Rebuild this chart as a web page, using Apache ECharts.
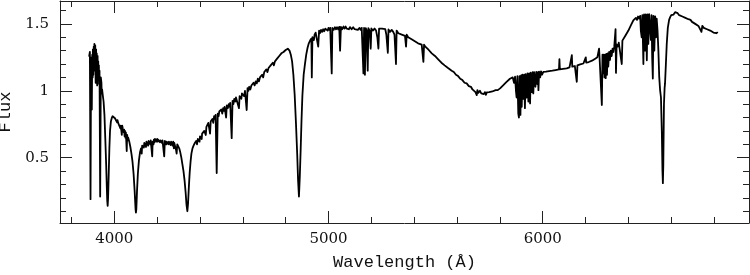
<!DOCTYPE html>
<html>
<head>
<meta charset="utf-8">
<script src="https://cdn.jsdelivr.net/npm/echarts@6/dist/echarts.min.js"></script>
<style>
html,body{margin:0;padding:0;background:#fff;}
#c{width:750px;height:275px;}
</style>
</head>
<body>
<div id="c"></div>
<script>
// [wavelength (Å), flux], by region
const specBlue = [[3883,1.26],[3886,1.29],[3889,0.19],[3891,1.02],[3893,1.25],[3895,0.86],[3897,1.27],[3899,1.10],[3900,1.31],[3902,1.12],[3904,1.33],[3905,1.15],[3907,1.35],[3908,1.20],[3909,1.30],[3911,1.34],[3912,1.18],[3913,1.06],[3915,1.31],[3916,1.12],[3918,1.28],[3920,1.04],[3922,1.26],[3923,1.12],[3925,1.22],[3926,1.08],[3928,1.19],[3929,1.05],[3931,1.15],[3934,0.21],[3937,1.10],[3940,1.06],[3941,0.98],[3943,1.01],[3946,0.97],[3950,0.92],[3954,0.82],[3958,0.64],[3962,0.45],[3965,0.28],[3967,0.18],[3969,0.14],[3971,0.20],[3974,0.38],[3977,0.57],[3980,0.70],[3984,0.77],[3988,0.795],[3992,0.81],[3996,0.82]];
const specViolet = [[4000,0.81],[4003,0.795],[4005,0.80],[4008,0.79],[4010,0.79],[4013,0.765],[4015,0.78],[4018,0.76],[4020,0.77],[4023,0.755],[4025,0.76],[4028,0.72],[4030,0.74],[4033,0.70],[4035,0.67],[4037,0.74],[4040,0.715],[4042,0.72],[4044,0.69],[4046,0.71],[4048,0.66],[4050,0.70],[4052,0.65],[4054,0.69],[4058,0.55],[4060,0.67],[4063,0.63],[4065,0.65],[4070,0.62],[4075,0.58],[4080,0.53],[4085,0.47],[4090,0.38],[4095,0.25],[4099,0.12],[4101,0.09],[4103,0.12],[4106,0.25],[4110,0.38],[4115,0.48],[4120,0.54],[4125,0.57],[4128,0.53],[4130,0.59],[4135,0.60],[4138,0.575],[4140,0.61],[4145,0.60],[4148,0.58],[4150,0.62],[4155,0.61],[4158,0.59],[4160,0.625],[4165,0.62],[4168,0.60],[4170,0.63],[4175,0.62],[4177,0.51],[4179,0.62],[4183,0.60],[4185,0.635],[4188,0.615],[4190,0.64],[4195,0.645],[4198,0.62],[4200,0.64],[4203,0.62],[4205,0.635],[4210,0.64],[4213,0.615],[4215,0.63],[4220,0.635],[4223,0.61],[4225,0.63],[4230,0.625],[4233,0.51],[4236,0.625],[4240,0.63],[4243,0.60],[4245,0.62],[4250,0.625],[4253,0.60],[4255,0.62],[4260,0.625],[4263,0.595],[4265,0.62],[4270,0.615],[4272,0.59],[4275,0.62],[4278,0.57],[4280,0.61],[4285,0.60],[4288,0.56],[4291,0.53],[4294,0.60],[4298,0.60],[4303,0.57],[4308,0.54],[4313,0.50],[4318,0.45],[4323,0.40],[4328,0.33],[4333,0.24],[4337,0.15],[4341,0.10],[4344,0.15],[4348,0.28],[4352,0.39],[4356,0.47],[4360,0.53],[4365,0.57],[4370,0.59],[4376,0.61],[4382,0.625],[4386,0.60],[4390,0.64],[4395,0.65],[4398,0.62]];
const specBlueGreen = [[4400,0.66],[4405,0.665],[4408,0.64],[4410,0.68],[4415,0.685],[4420,0.70],[4425,0.71],[4427,0.67],[4430,0.73],[4435,0.74],[4439,0.76],[4444,0.765],[4447,0.68],[4450,0.77],[4455,0.78],[4458,0.79],[4462,0.76],[4466,0.81],[4470,0.79],[4473,0.82],[4478,0.385],[4483,0.83],[4487,0.81],[4490,0.845],[4495,0.85],[4500,0.86],[4504,0.83],[4508,0.87],[4512,0.85],[4515,0.88],[4522,0.80],[4525,0.89],[4530,0.87],[4534,0.90],[4538,0.88],[4541,0.91],[4548,0.646],[4552,0.925],[4556,0.90],[4560,0.94],[4565,0.92],[4568,0.95],[4575,0.955],[4582,0.87],[4585,0.96],[4590,0.97],[4593,0.94],[4596,0.98],[4602,0.99],[4606,0.96],[4610,1.00],[4618,0.856],[4622,1.02],[4626,1.00],[4630,1.03],[4635,1.01],[4640,1.04],[4645,1.03],[4650,1.06],[4655,1.04],[4660,1.07],[4665,1.055],[4670,1.09],[4675,1.07],[4680,1.10],[4690,1.12],[4695,1.10],[4700,1.14],[4710,1.16],[4715,1.14],[4720,1.17],[4730,1.19],[4740,1.21],[4745,1.19],[4750,1.22],[4760,1.24],[4770,1.26],[4780,1.28],[4790,1.29],[4800,1.305],[4810,1.315],[4818,1.30],[4824,1.27],[4830,1.22],[4836,1.12],[4842,0.97],[4848,0.76],[4854,0.52],[4858,0.33],[4862,0.21],[4866,0.36],[4870,0.56],[4874,0.78],[4878,0.96],[4884,1.12],[4890,1.20],[4896,1.27]];
const specGreen = [[4902,1.32],[4908,1.355],[4914,1.375],[4920,1.39],[4922,1.10],[4925,1.40],[4930,1.41],[4932,1.38],[4935,1.42],[4940,1.435],[4946,1.44],[4952,1.33],[4956,1.45],[4960,1.43],[4965,1.455],[4970,1.44],[4975,1.46],[4980,1.445],[4985,1.465],[4992,1.47],[4996,1.45],[5000,1.47],[5004,1.455],[5008,1.47],[5015,1.13],[5018,1.47],[5024,1.455],[5030,1.475],[5035,1.46],[5040,1.475],[5045,1.46],[5050,1.478],[5054,1.30],[5058,1.478],[5064,1.46],[5070,1.48],[5075,1.465],[5080,1.48],[5085,1.465],[5090,1.478],[5095,1.46],[5100,1.476],[5108,1.46],[5115,1.475],[5122,1.46],[5130,1.473],[5137,1.455],[5145,1.47],[5150,1.455],[5155,1.47],[5163,1.13],[5166,1.47],[5170,1.12],[5174,1.468],[5178,1.45],[5183,1.15],[5186,1.468],[5192,1.45],[5197,1.315],[5200,1.466],[5207,1.45],[5215,1.465],[5222,1.45],[5228,1.40],[5233,1.315],[5236,1.464],[5243,1.45],[5250,1.464],[5257,1.45],[5265,1.46],[5270,1.42],[5277,1.283],[5280,1.458],[5287,1.44],[5295,1.455],[5302,1.44],[5308,1.42],[5315,1.20],[5318,1.45],[5326,1.43],[5334,1.44],[5342,1.42],[5350,1.43],[5357,1.41],[5362,1.33],[5365,1.42],[5372,1.40],[5380,1.405],[5388,1.385],[5395,1.39],[5403,1.37],[5412,1.377],[5418,1.355],[5425,1.36],[5435,1.345],[5443,1.216],[5446,1.345],[5452,1.33],[5460,1.325],[5468,1.305],[5475,1.30],[5482,1.28],[5489,1.28],[5497,1.26]];
const specYellow = [[5505,1.255],[5512,1.235],[5520,1.23],[5527,1.21],[5535,1.205],[5542,1.19],[5550,1.185],[5558,1.17],[5567,1.167],[5575,1.15],[5585,1.14],[5595,1.12],[5605,1.11],[5615,1.09],[5625,1.08],[5635,1.06],[5645,1.055],[5655,1.035],[5665,1.03],[5672,1.01],[5680,1.015],[5686,0.99],[5692,0.968],[5695,1.005],[5700,0.985],[5707,1.00],[5713,0.98],[5720,0.993],[5725,0.975],[5730,0.99],[5735,0.97],[5739,0.988],[5745,0.975],[5750,0.99],[5757,0.98],[5765,0.995],[5772,0.99],[5780,1.005],[5790,1.005],[5801,1.018],[5808,1.02],[5815,1.04],[5822,1.04],[5830,1.065],[5838,1.06],[5847,1.09],[5853,1.08],[5860,1.10],[5866,1.06],[5871,1.105],[5875,1.00],[5878,0.95],[5882,1.11],[5886,0.83],[5889,0.80],[5892,1.11],[5896,0.82],[5899,1.115],[5902,0.88],[5905,1.12],[5909,0.94],[5913,1.12],[5917,0.87],[5920,1.125],[5925,0.95],[5929,1.13],[5933,0.92],[5937,1.13],[5941,0.906],[5944,1.135],[5949,0.99],[5953,1.14],[5956,0.98],[5960,1.14],[5966,1.03],[5970,1.142],[5975,1.05],[5978,1.14],[5980,1.005],[5983,1.143],[5988,1.10],[5992,1.145],[5997,1.12]];
const specOrange = [[6003,1.141],[6010,1.13],[6015,1.143],[6022,1.135],[6030,1.147],[6037,1.14],[6045,1.15],[6052,1.14],[6060,1.155],[6068,1.145],[6076,1.16],[6078,1.236],[6080,1.16],[6087,1.15],[6095,1.163],[6103,1.155],[6112,1.167],[6118,1.16],[6125,1.175],[6130,1.165],[6134,1.18],[6136,1.266],[6138,1.18],[6144,1.17],[6150,1.185],[6155,1.175],[6159,1.067],[6162,1.19],[6168,1.18],[6175,1.197],[6182,1.19],[6190,1.204],[6195,1.195],[6199,1.21],[6201,1.25],[6203,1.21],[6209,1.20],[6215,1.215],[6222,1.21],[6230,1.225],[6237,1.215],[6245,1.24],[6250,1.23],[6255,1.25],[6261,1.255],[6263,1.315],[6265,1.26],[6270,1.265],[6276,0.894],[6279,1.27],[6282,1.13],[6285,1.27],[6288,1.10],[6291,1.27],[6294,1.094],[6297,1.275],[6300,1.12],[6303,1.28],[6306,1.18],[6310,1.29],[6314,1.23],[6318,1.30],[6322,1.26],[6326,1.315],[6330,1.29],[6334,1.33],[6340,1.46],[6342,1.134],[6345,1.345],[6350,1.33],[6355,1.36],[6362,1.35],[6369,1.20],[6372,1.375],[6378,1.37],[6385,1.41],[6392,1.41],[6400,1.45],[6406,1.45],[6412,1.49],[6418,1.48],[6423,1.526],[6429,1.515],[6435,1.545],[6440,1.53]];
const specRed = [[6445,1.555],[6450,1.54],[6455,1.56],[6458,1.45],[6462,1.40],[6465,1.565],[6468,1.35],[6470,1.20],[6473,1.57],[6476,1.42],[6478,1.30],[6481,1.57],[6484,1.40],[6486,1.228],[6489,1.57],[6493,1.35],[6497,1.572],[6501,1.571],[6505,1.38],[6508,1.565],[6511,1.25],[6514,1.092],[6517,1.56],[6521,1.30],[6525,1.555],[6529,1.40],[6532,1.54],[6536,1.45],[6540,1.30],[6544,1.10],[6548,1.005],[6552,0.95],[6556,0.70],[6559,0.40],[6561,0.31],[6563,0.45],[6566,0.90],[6569,1.02],[6571,1.055],[6575,1.20],[6579,1.35],[6584,1.47],[6590,1.53],[6595,1.55],[6600,1.565],[6605,1.575],[6611,1.57],[6618,1.588],[6624,1.575],[6630,1.58],[6637,1.565],[6645,1.57],[6652,1.555],[6660,1.56],[6666,1.545],[6673,1.55],[6680,1.535],[6690,1.53],[6697,1.515],[6705,1.515],[6712,1.50],[6720,1.50],[6727,1.485],[6735,1.49],[6741,1.44],[6745,1.485],[6752,1.47],[6760,1.475],[6767,1.46],[6775,1.46],[6782,1.45],[6790,1.45],[6797,1.435],[6805,1.44],[6810,1.43],[6815,1.435]];

const xRange = [3746.5, 6963];
const yRange = [0.012, 1.671];
const xMajorTicks = [4000, 5000, 6000];
const xMinorTicks = [3800, 4200, 4400, 4600, 4800, 5200, 5400, 5600, 5800, 6200, 6400, 6600, 6800];
const yMajorTicks = [0.5, 1, 1.5];
const yMinorTicks = [0.1, 0.2, 0.3, 0.4, 0.6, 0.7, 0.8, 0.9, 1.1, 1.2, 1.3, 1.4, 1.6];

const points = [].concat(specBlue, specViolet, specBlueGreen, specGreen, specYellow, specOrange, specRed);
const axisColor = '#222';
const tickFont = { fontFamily: 'DejaVu Serif', fontSize: 15, color: '#111', formatter: v => String(v) };

function xAx(pos, ticks, len, withLine, withLabel) {
  return {
    type: 'value', position: pos, min: xRange[0], max: xRange[1],
    axisLine: { show: withLine, onZero: false, lineStyle: { color: axisColor, width: 1 } },
    axisTick: { show: true, inside: true, length: len, customValues: ticks, lineStyle: { color: axisColor, width: 1 } },
    axisLabel: withLabel ? Object.assign({ show: true, customValues: ticks, margin: 9 }, tickFont) : { show: false },
    splitLine: { show: false }
  };
}
function yAx(pos, ticks, len, withLine, withLabel) {
  return {
    type: 'value', position: pos, min: yRange[0], max: yRange[1],
    axisLine: { show: withLine, onZero: false, lineStyle: { color: axisColor, width: 1 } },
    axisTick: { show: true, inside: true, length: len, customValues: ticks, lineStyle: { color: axisColor, width: 1 } },
    axisLabel: withLabel ? Object.assign({ show: true, customValues: ticks, margin: 11 }, tickFont) : { show: false },
    splitLine: { show: false }
  };
}

const xMain = xAx('bottom', xMajorTicks, 12, true, true);
xMain.name = 'Wavelength (Å)';
xMain.nameLocation = 'middle';
xMain.nameGap = 31;
xMain.nameTextStyle = { fontFamily: 'Liberation Mono', fontSize: 17, color: '#111' };
const yMain = yAx('left', yMajorTicks, 12, true, true);
yMain.name = 'Flux';
yMain.nameLocation = 'middle';
yMain.nameGap = 42;
yMain.nameTextStyle = { fontFamily: 'Liberation Mono', fontSize: 17, color: '#111' };

const chart = echarts.init(document.getElementById('c'), null, { renderer: 'canvas' });
chart.setOption({
  animation: false,
  backgroundColor: '#fff',
  grid: { left: 60, right: 1, top: 1, bottom: 52, containLabel: false, outerBoundsMode: 'none' },
  xAxis: [
    xMain,
    xAx('bottom', xMinorTicks, 6, false, false),
    xAx('top', xMajorTicks, 12, true, false),
    xAx('top', xMinorTicks, 6, false, false)
  ],
  yAxis: [
    yMain,
    yAx('left', yMinorTicks, 6, false, false),
    yAx('right', yMajorTicks, 12, true, false),
    yAx('right', yMinorTicks, 6, false, false)
  ],
  series: [{
    type: 'line',
    xAxisIndex: 0,
    yAxisIndex: 0,
    data: points,
    showSymbol: false,
    symbol: 'none',
    sampling: false,
    lineStyle: { color: '#000', width: 1.8, join: 'round', cap: 'round' },
    silent: true
  }]
});
</script>
</body>
</html>
